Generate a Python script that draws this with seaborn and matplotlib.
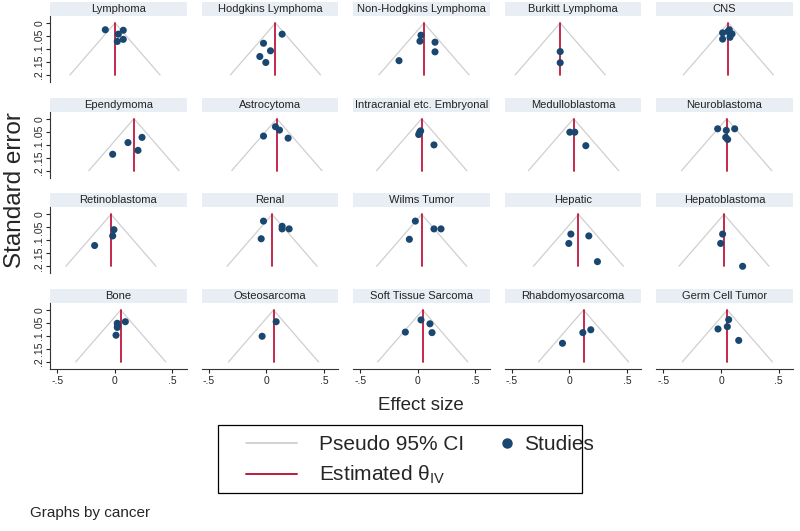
import numpy as np
import pandas as pd
import seaborn as sns
import matplotlib.pyplot as plt
from matplotlib.lines import Line2D
from matplotlib.patches import Rectangle

# funnel plot per cancer type: effect size vs standard error
cancers = ['Lymphoma', 'Hodgkins Lymphoma', 'Non-Hodgkins Lymphoma', 'Burkitt Lymphoma', 'CNS',
           'Ependymoma', 'Astrocytoma', 'Intracranial etc. Embryonal', 'Medulloblastoma', 'Neuroblastoma',
           'Retinoblastoma', 'Renal', 'Wilms Tumor', 'Hepatic', 'Hepatoblastoma',
           'Bone', 'Osteosarcoma', 'Soft Tissue Sarcoma', 'Rhabdomyosarcoma', 'Germ Cell Tumor']

theta = [0.0, 0.078, 0.052, -0.081, 0.064,
         0.165, 0.09, 0.032, 0.035, 0.049,
         -0.035, 0.049, 0.032, 0.078, 0.026,
         0.05, 0.061, 0.041, 0.122, 0.055]

effect = [
    [-0.084, 0.029, 0.072, 0.02, 0.072],
    [0.136, -0.026, 0.035, -0.058, -0.006],
    [0.026, 0.017, 0.148, 0.148, -0.165],
    [-0.081, -0.081],
    [0.014, 0.014, 0.072, 0.078, 0.096, 0.06],
    [0.235, 0.113, 0.2, -0.02],
    [0.078, 0.113, -0.026, 0.188],
    [0.023, 0.006, 0.015, 0.139],
    [0.003, 0.046, 0.142],
    [-0.029, 0.119, 0.046, 0.041, 0.058],
    [-0.009, -0.02, -0.177],
    [-0.026, 0.136, 0.136, 0.197, -0.046],
    [-0.023, 0.139, 0.2, -0.075],
    [0.012, 0.168, -0.006, 0.243],
    [0.014, -0.003, 0.188],
    [0.09, 0.02, 0.023, 0.02, 0.009],
    [0.084, -0.038],
    [0.026, 0.104, 0.122, -0.11],
    [0.185, 0.116, -0.061],
    [0.067, 0.055, -0.026, 0.154],
]

se = [
    [0.026, 0.043, 0.028, 0.071, 0.063],
    [0.043, 0.078, 0.107, 0.129, 0.152],
    [0.047, 0.07, 0.074, 0.111, 0.145],
    [0.11, 0.153],
    [0.038, 0.062, 0.026, 0.055, 0.042, 0.033],
    [0.072, 0.092, 0.122, 0.137],
    [0.031, 0.044, 0.067, 0.075],
    [0.047, 0.061, 0.052, 0.101],
    [0.052, 0.052, 0.104],
    [0.039, 0.039, 0.045, 0.072, 0.08],
    [0.059, 0.083, 0.12],
    [0.026, 0.046, 0.056, 0.056, 0.094],
    [0.026, 0.056, 0.056, 0.096],
    [0.076, 0.083, 0.112, 0.182],
    [0.076, 0.112, 0.2],
    [0.045, 0.051, 0.06, 0.067, 0.097],
    [0.045, 0.101],
    [0.038, 0.053, 0.087, 0.085],
    [0.076, 0.087, 0.128],
    [0.037, 0.064, 0.073, 0.117],
]

xticks = [-0.5, 0, 0.5]
xticklabels = ['-.5', '0', '.5']
yticks = [0, 0.05, 0.1, 0.15, 0.2]
yticklabels = ['0', '.05', '.1', '.15', '.2']

rows = []
for c, xs, ys in zip(cancers, effect, se):
    for x, y in zip(xs, ys):
        rows.append((c, x, y))
df = pd.DataFrame(rows, columns=['cancer', 'effect', 'se'])

sns.set_style('white')
plt.rcParams['font.family'] = ['Liberation Sans', 'DejaVu Sans']
plt.rcParams['mathtext.fontset'] = 'custom'
plt.rcParams['mathtext.rm'] = 'Liberation Sans'

navy = '#1a476f'
red = '#c0183f'
gray = '#cfcfcf'
strip = '#e8eef4'

fig, axes = plt.subplots(4, 5, figsize=(8, 5.31), dpi=100, sharex=True, sharey=True)
fig.subplots_adjust(left=0.0625, right=0.99125, top=0.9699, bottom=0.3051,
                    wspace=0.106, hspace=0.45)

se_line = np.array([0, 0.2])
for i, ax in enumerate(axes.flat):
    name = cancers[i]
    t = theta[i]
    ax.plot(t - 1.96 * se_line, se_line, color=gray, lw=0.9, zorder=1)
    ax.plot(t + 1.96 * se_line, se_line, color=gray, lw=0.9, zorder=1)
    ax.plot([t, t], se_line, color=red, lw=1.3, zorder=2)
    sns.scatterplot(data=df[df.cancer == name], x='effect', y='se', ax=ax,
                    color=navy, s=26, edgecolor='none', zorder=3, legend=False)
    ax.set_xlabel('')
    ax.set_ylabel('')
    ax.set_xlim(-0.565, 0.626)
    ax.set_ylim(0.227, -0.027)
    ax.set_xticks(xticks)
    ax.set_yticks(yticks)
    for s in ax.spines.values():
        s.set_visible(False)
    # strip title
    ax.add_patch(Rectangle((0, 1), 1, 14 / 66, transform=ax.transAxes,
                           facecolor=strip, edgecolor='none', clip_on=False))
    ax.text(0.5, 1 + 7 / 66, name, transform=ax.transAxes, ha='center',
            va='center', fontsize=8, color='#222222')
    r, c = divmod(i, 5)
    if c == 0:
        ax.spines['left'].set_visible(True)
        ax.spines['left'].set_linewidth(0.8)
        ax.spines['left'].set_color('#333333')
        ax.tick_params(axis='y', left=True, length=3, width=0.8, pad=1, labelsize=7.5)
        ax.set_yticklabels(yticklabels, rotation=90, va='center')
    if r == 3:
        ax.spines['bottom'].set_visible(True)
        ax.spines['bottom'].set_linewidth(0.8)
        ax.spines['bottom'].set_color('#333333')
        ax.tick_params(axis='x', bottom=True, length=3, width=0.8, pad=2, labelsize=7.5)
        ax.set_xticklabels(xticklabels)

fig.text(421 / 800, 1 - 405 / 531, 'Effect size', ha='center', va='center', fontsize=13.5)
fig.text(15 / 800, 1 - 190 / 531, 'Standard error', rotation=90, ha='center',
         va='center', fontsize=17.5)

# legend box drawn in figure pixels
W, H = 800, 531
def fx(px):
    return px / W
def fy(py):
    return 1 - py / H

fig.add_artist(Rectangle((fx(218), fy(493)), 364 / W, 68 / H, transform=fig.transFigure,
                         facecolor='white', edgecolor='black', lw=0.9))
fig.add_artist(Line2D([fx(246), fx(297)], [fy(443), fy(443)], color=gray, lw=1.3,
                      transform=fig.transFigure))
fig.add_artist(Line2D([fx(246), fx(297)], [fy(474), fy(474)], color=red, lw=1.4,
                      transform=fig.transFigure))
fig.add_artist(Line2D([fx(507)], [fy(443)], color=navy, marker='o', ls='none', markersize=6.5,
                      transform=fig.transFigure))
fig.text(fx(319), fy(444), 'Pseudo 95% CI', ha='left', va='center', fontsize=15)
fig.text(fx(319), fy(475), r'Estimated θ$_{\mathrm{IV}}$', ha='left', va='center', fontsize=15)
fig.text(fx(524), fy(444), 'Studies', ha='left', va='center', fontsize=15)

fig.text(30 / 800, 1 - 513 / 531, 'Graphs by cancer', ha='left', va='center', fontsize=11)

fig.savefig('out.png', dpi=100)
